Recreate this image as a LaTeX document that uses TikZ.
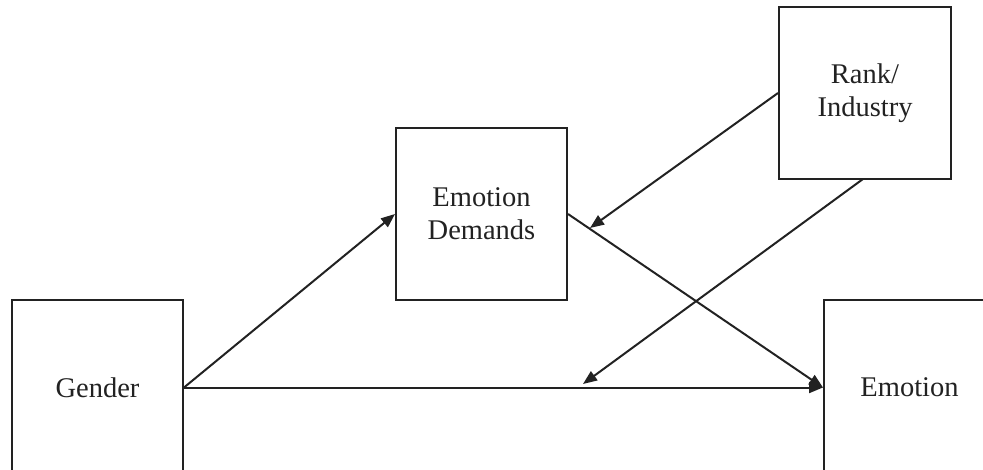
\documentclass[tikz,border=0pt]{standalone}
\usepackage{fontspec}
\setmainfont{Liberation Serif}
\usetikzlibrary{arrows.meta}
\definecolor{ink}{HTML}{222222}
\begin{document}
\begin{tikzpicture}[x=1pt,y=-1pt,
  boxnode/.style={draw=ink, line width=2pt, minimum width=171pt, align=center,
    inner sep=0pt, font=\fontsize{28.5}{33}\selectfont, text=ink},
  conn/.style={draw=ink, line width=2pt, -{Triangle[length=14pt,width=11pt]}}]
\useasboundingbox (0,0) rectangle (983,469);
\clip (0,0) rectangle (983,469);
\node[boxnode, minimum height=175pt] (G) at (97.5,387.5) {Gender};
\node[boxnode, minimum height=172pt] (ED) at (481.5,214) {Emotion\\Demands};
\node[boxnode, minimum height=172pt, minimum width=172pt] (R) at (865,93) {Rank/\\Industry};
\node[boxnode, minimum height=175pt] (E) at (909.5,387.5) {Emotion};
\coordinate (t1) at (590,228);
\coordinate (t2) at (583,384);
\coordinate (rb) at (863,179);
\draw[conn] (G.east) -- (ED.west);
\draw[conn] (G.east) -- (E.west);
\draw[conn] (ED.east) -- (E.west);
\draw[conn] (R.west) -- (t1);
\draw[conn] (rb) -- (t2);
\end{tikzpicture}
\end{document}
